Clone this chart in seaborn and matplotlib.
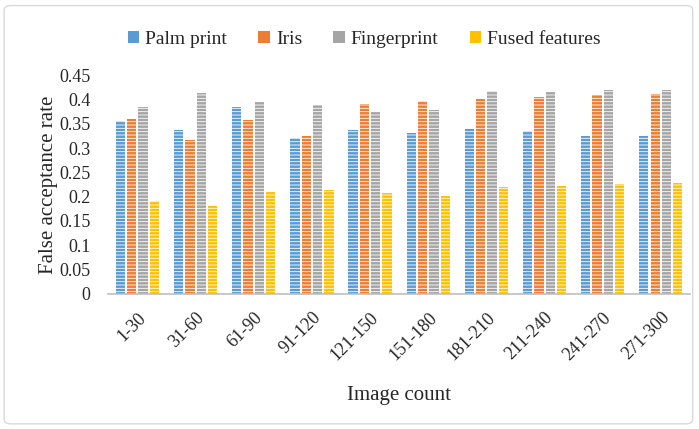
import matplotlib
matplotlib.use("Agg")
from matplotlib import pyplot as plt
from matplotlib.patches import FancyBboxPatch
import seaborn as sns
import pandas as pd

# Dati
groups = ['1-30', '31-60', '61-90', '91-120', '121-150', '151-180', '181-210', '211-240', '241-270', '271-300']
palm = [0.355, 0.338, 0.384, 0.321, 0.337, 0.331, 0.340, 0.336, 0.324, 0.325]
iris = [0.359, 0.317, 0.358, 0.325, 0.391, 0.397, 0.401, 0.405, 0.408, 0.412]
finger = [0.385, 0.414, 0.395, 0.389, 0.375, 0.379, 0.417, 0.416, 0.420, 0.419]
fused = [0.190, 0.181, 0.210, 0.214, 0.208, 0.201, 0.219, 0.221, 0.226, 0.227]
series = ['Palm print', 'Iris', 'Fingerprint', 'Fused features']
colors = ['#5B9BD5', '#ED7D31', '#A5A5A5', '#FFC000']

rows = []
for name, vals in zip(series, [palm, iris, finger, fused]):
    for g, v in zip(groups, vals):
        rows.append({'group': g, 'series': name, 'value': v})
df = pd.DataFrame(rows)

sns.set_style('white')
plt.rcParams['font.family'] = ['Liberation Serif', 'DejaVu Serif']
plt.rcParams['hatch.color'] = (1, 1, 1, 0.35)
plt.rcParams['hatch.linewidth'] = 0.6

fig = plt.figure(figsize=(6.99, 4.29), dpi=100)
ax = fig.add_axes([0.155, 0.315, 0.832, 0.51])

sns.barplot(data=df, x='group', y='value', hue='series', palette=colors,
            width=0.78, gap=0.18, ax=ax, saturation=1, linewidth=0)
for p in ax.patches:
    p.set_hatch('-----')

ax.set_ylim(0, 0.45)
ticks = [i * 0.05 for i in range(10)]
ax.set_yticks(ticks)
ax.set_yticklabels(['0', '0.05', '0.1', '0.15', '0.2', '0.25', '0.3', '0.35', '0.4', '0.45'], fontsize=13)
ax.set_xticks(range(len(groups)))
ax.set_xticklabels(groups, rotation=45, ha='right', rotation_mode='anchor', fontsize=13)
ax.tick_params(axis='x', pad=11, length=0)
ax.tick_params(axis='y', pad=13, length=0)
ax.set_xlim(-0.5, 9.5)

for s in ['top', 'right', 'left']:
    ax.spines[s].set_visible(False)
ax.spines['bottom'].set_color('#BFBFBF')
ax.spines['bottom'].set_linewidth(1.2)

ax.set_xlabel('Image count', fontsize=15, labelpad=16)
ax.set_ylabel('False acceptance rate', fontsize=15, labelpad=1)

leg = ax.legend(loc='lower center', bbox_to_anchor=(0.44, 1.045), ncol=4, frameon=False,
                fontsize=14, handlelength=0.6, handleheight=0.6, handletextpad=0.3, columnspacing=1.6)
for h in leg.legend_handles:
    h.set_hatch(None)

fig.patches.append(FancyBboxPatch((0.006, 0.012), 0.985, 0.975, boxstyle='round,pad=0,rounding_size=0.01',
                                  transform=fig.transFigure, fill=False, edgecolor='#D9D9D9', linewidth=1))

fig.savefig('out.png', dpi=100)
